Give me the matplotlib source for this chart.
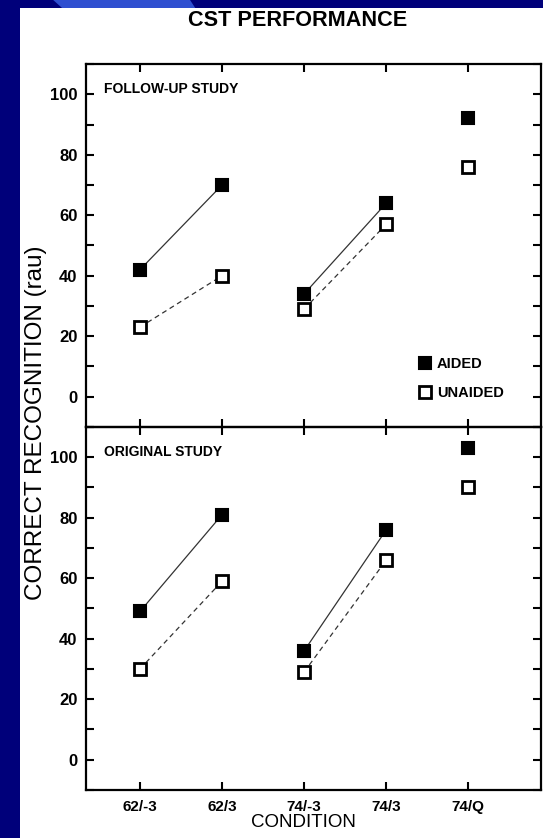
import numpy as np
import matplotlib.pyplot as plt
from matplotlib.patches import Rectangle, Polygon
from matplotlib.ticker import MultipleLocator, FixedLocator

plt.rcParams['font.family'] = ['Liberation Sans', 'DejaVu Sans']

# Conditions along the x axis
conditions = ["62/-3", "62/3", "74/-3", "74/3", "74/Q"]

# Follow-up study (rau)
follow_aided = [42, 70, 34, 64, 92]
follow_unaided = [23, 40, 29, 57, 76]

# Original study (rau)
orig_aided = [49, 81, 36, 76, 103]
orig_unaided = [30, 59, 29, 66, 90]

# which conditions are joined by lines
pairs = [(0, 1), (2, 3)]

panel_names = ["FOLLOW-UP STUDY", "ORIGINAL STUDY"]

fig = plt.figure(figsize=(5.43, 8.38), dpi=100)
fig.patch.set_facecolor("#00007a")

# slide style backdrop: white card with a lighter stripe on top
fig.patches.append(Polygon([[0.098, 1.0], [0.35, 1.0], [0.36, 0.99], [0.115, 0.99]],
                           closed=True, transform=fig.transFigure,
                           facecolor="#2f4fd0", edgecolor="none", zorder=-2))
fig.patches.append(Rectangle((0.037, 0.0), 0.963, 0.9905, transform=fig.transFigure,
                             facecolor="white", edgecolor="none", zorder=-1))

ax_top = fig.add_axes([0.158, 0.4905, 0.839, 0.4331])
ax_bot = fig.add_axes([0.158, 0.0573, 0.839, 0.4332], sharex=ax_top)

x = np.arange(len(conditions))

for ax, aided, unaided, name in [(ax_top, follow_aided, follow_unaided, panel_names[0]),
                                 (ax_bot, orig_aided, orig_unaided, panel_names[1])]:
    ax.set_facecolor("none")
    for a, b in pairs:
        ax.plot([x[a], x[b]], [aided[a], aided[b]], color="#333333", lw=0.9, zorder=2)
        ax.plot([x[a], x[b]], [unaided[a], unaided[b]], color="#333333", lw=0.9,
                ls=(0, (4, 3)), zorder=2)
    ax.plot(x, aided, ls="none", marker="s", ms=8.5, mfc="black", mec="black",
            mew=1.5, zorder=3, label="AIDED")
    ax.plot(x, unaided, ls="none", marker="s", ms=8.5, mfc="white", mec="black",
            mew=2.0, zorder=3, label="UNAIDED")

    ax.set_xlim(-0.66, 4.89)
    ax.set_ylim(-10, 110)
    ax.yaxis.set_major_locator(FixedLocator([0, 20, 40, 60, 80, 100]))
    ax.yaxis.set_minor_locator(MultipleLocator(10))
    ax.set_xticks(x)
    for s in ax.spines.values():
        s.set_linewidth(1.6)
    ax.tick_params(which="both", direction="in", length=5.5, width=1.5,
                   top=True, right=True, bottom=True, left=True)
    ax.tick_params(axis="y", labelsize=12, pad=6)
    for lab in ax.get_yticklabels():
        lab.set_fontweight("bold")
    ax.text(0.04, 0.93, name, transform=ax.transAxes, fontsize=10,
            fontweight="bold", va="center", ha="left")

ax_top.tick_params(axis="x", labelbottom=False)
ax_bot.set_xticklabels(conditions, fontsize=11, fontweight="bold")
ax_bot.tick_params(axis="x", pad=7)
ax_bot.set_xlabel("CONDITION", fontsize=13.5, labelpad=3)
ax_bot.xaxis.set_label_coords(0.478, -0.065)

leg = ax_top.legend(loc="lower left", bbox_to_anchor=(0.705, 0.038), frameon=False,
                    handlelength=0.7, handletextpad=0.45, labelspacing=1.05,
                    prop={"size": 10.5, "weight": "bold"}, markerscale=0.95)

fig.text(0.067, 0.496, "CORRECT RECOGNITION (rau)", rotation=90, fontsize=17.5,
         ha="center", va="center")
fig.text(0.548, 0.976, "CST PERFORMANCE", fontsize=15.6, fontweight="bold",
         ha="center", va="center")

fig.savefig("out.png", dpi=100, facecolor=fig.get_facecolor())
